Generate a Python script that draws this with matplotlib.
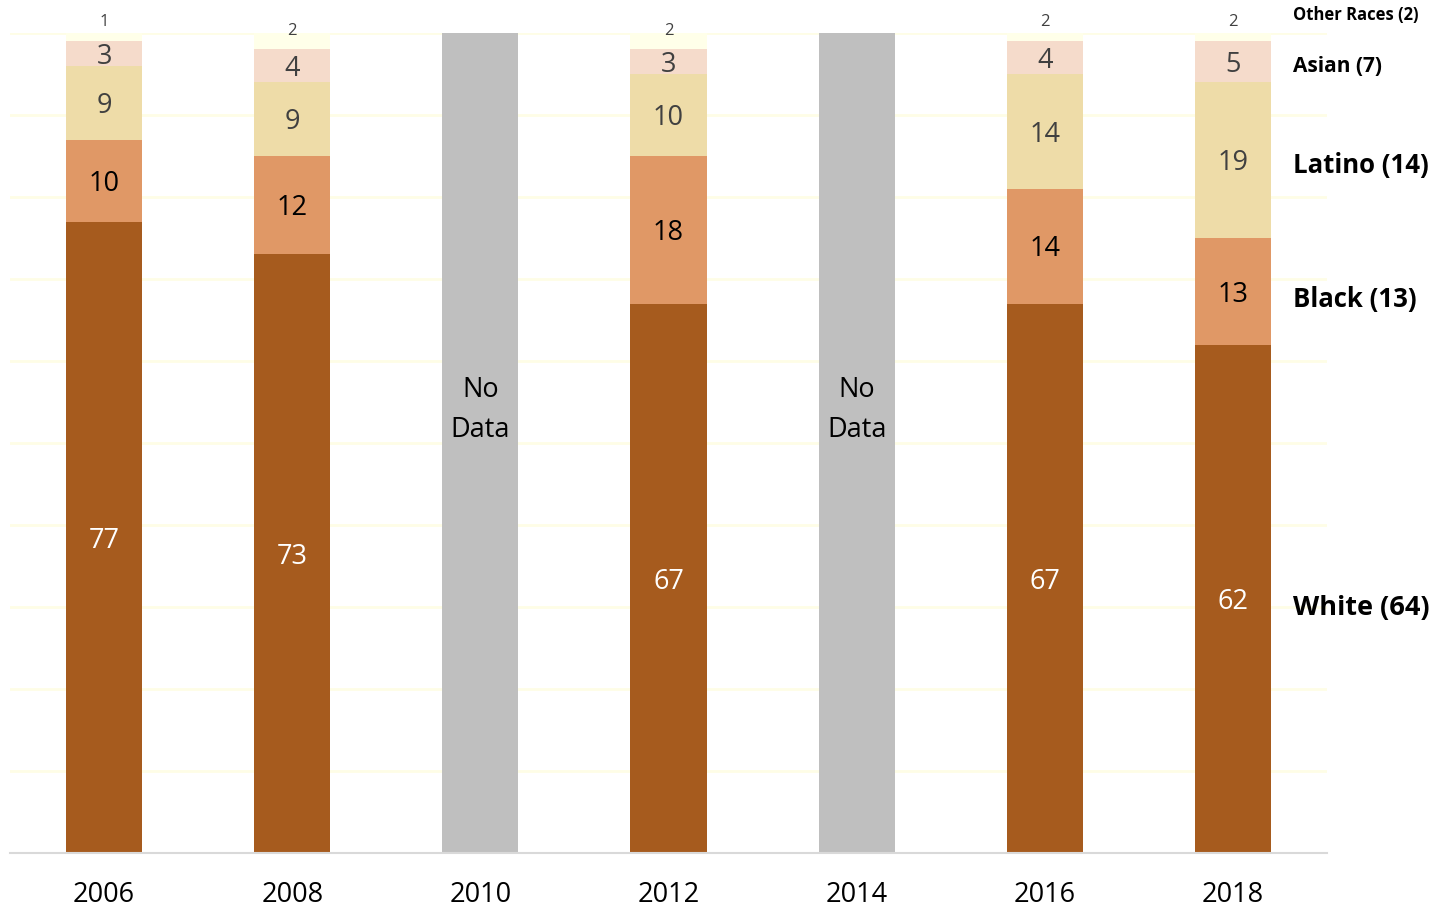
import matplotlib.pyplot as plt

# Data (percent share of each group, per year)
years = ["2006", "2008", "2010", "2012", "2014", "2016", "2018"]
data_years = ["2006", "2008", "2012", "2016", "2018"]
no_data_years = ["2010", "2014"]

white = [77, 73, 67, 67, 62]
black = [10, 12, 18, 14, 13]
latino = [9, 9, 10, 14, 19]
asian = [3, 4, 3, 4, 5]
other = [1, 2, 2, 1, 1]
other_labels = ["1", "2", "2", "2", "2"]

series_names = ["White (64)", "Black (13)", "Latino (14)", "Asian (7)", "Other Races (2)"]

plt.rcParams["font.family"] = ["Open Sans", "DejaVu Sans"]

fig = plt.figure(figsize=(14.39, 9.08), dpi=100)
ax = fig.add_axes([10 / 1439, 55 / 908, 1317 / 1439, 820 / 908])

pos = {y: i for i, y in enumerate(years)}
xs = [pos[y] for y in data_years]
width = 0.404

colors = ["#A65B1E", "#E09866", "#EEDCA8", "#F5DBCB", "#FFFFE9"]
label_colors = ["white", "black", "#404040", "#404040", "#404040"]
layers = [white, black, latino, asian, other]

bottoms = [0] * len(xs)
for vals, col, lcol in zip(layers, colors, label_colors):
    ax.bar(xs, vals, width, bottom=bottoms, color=col, zorder=2)
    if vals is not other:
        for x, b, v in zip(xs, bottoms, vals):
            ax.text(x, b + v / 2 - 0.4, str(v), ha="center", va="center",
                    fontsize=19.5, color=lcol, zorder=3)
    else:
        for x, b, lab in zip(xs, bottoms, other_labels):
            ax.text(x, b + 2.3, lab, ha="center", va="center",
                    fontsize=12, color="#404040", zorder=3, clip_on=False)
    bottoms = [b + v for b, v in zip(bottoms, vals)]

# No data bars
nd_x = [pos[y] for y in no_data_years]
ax.bar(nd_x, [100] * len(nd_x), width, color="#BFBFBF", zorder=2)
for x in nd_x:
    ax.text(x, 54.0, "No\nData", ha="center", va="center", fontsize=19.5,
            color="black", linespacing=1.55, zorder=3)

# Series labels on the right
label_y = [29.9, 67.5, 83.9, 95.9, 102.2]
label_size = [19.5, 18.5, 18.5, 15, 12]
for name, y, s in zip(series_names, label_y, label_size):
    ax.text(6.317, y, name, ha="left", va="center", fontsize=s,
            fontweight="bold", color="black", clip_on=False)

ax.set_xlim(-0.5, 6.5)
ax.set_ylim(0, 100)
ax.set_xticks(range(len(years)))
ax.set_xticklabels(years, fontsize=19.5)
ax.tick_params(axis="x", length=0, pad=20)
ax.set_yticks(range(10, 101, 10))
ax.yaxis.grid(True, color="#FEFDE6", linewidth=2, zorder=0)
ax.set_axisbelow(True)
ax.tick_params(axis="y", left=False, labelleft=False)
for side in ["top", "right", "left"]:
    ax.spines[side].set_visible(False)
ax.spines["bottom"].set_color("#D9D9D9")
ax.spines["bottom"].set_linewidth(1.5)

fig.savefig("out.png", dpi=100)
